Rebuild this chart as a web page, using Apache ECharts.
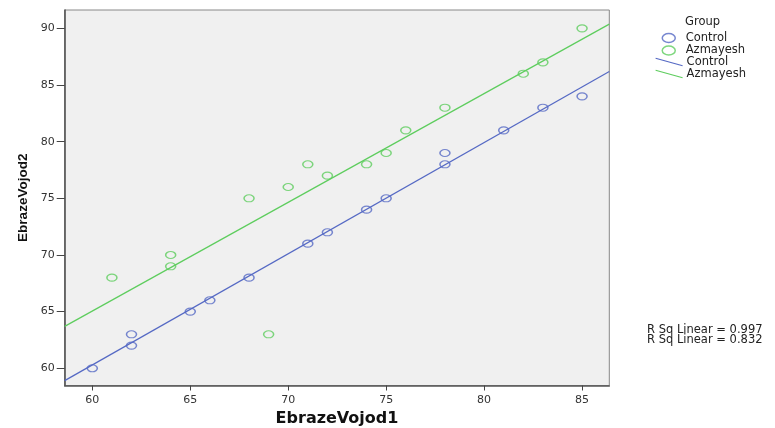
<!DOCTYPE html>
<html><head><meta charset="utf-8">
<script src="https://cdn.jsdelivr.net/npm/echarts@6/dist/echarts.min.js"></script>
<style>html,body{margin:0;padding:0;background:#fff}#c{width:775px;height:428px}</style>
</head><body><div id="c"></div>
<script>
const controlX = [60, 62, 62, 65, 66, 68, 71, 72, 74, 75, 78, 78, 81, 83, 85];
const controlY = [60, 62, 63, 65, 66, 68, 71, 72, 74, 75, 78, 79, 81, 83, 84];
const azmayeshX = [61, 64, 64, 68, 69, 70, 71, 72, 74, 75, 76, 78, 82, 83, 85];
const azmayeshY = [68, 70, 69, 75, 63, 76, 78, 77, 78, 79, 81, 83, 86, 87, 90];
const xTicks = [60, 65, 70, 75, 80, 85];
const yTicks = [60, 65, 70, 75, 80, 85, 90];
const groupNames = ['Control', 'Azmayesh'];
const rSqLabels = ['R Sq Linear = 0.997', 'R Sq Linear = 0.832'];
const legendTitle = 'Group';
const xName = 'EbrazeVojod1';
const yName = 'EbrazeVojod2';

const X_MIN = 58.59, X_MAX = 86.39, Y_MIN = 58.48, Y_MAX = 91.62;
const BLUE = '#5569c4', GREEN = '#5ecd5e';
const COLORS = [BLUE, GREEN];

function fit(xs, ys) {
  const n = xs.length;
  const mx = xs.reduce((a, b) => a + b, 0) / n;
  const my = ys.reduce((a, b) => a + b, 0) / n;
  let sxy = 0, sxx = 0;
  for (let i = 0; i < n; i++) { sxy += (xs[i] - mx) * (ys[i] - my); sxx += (xs[i] - mx) ** 2; }
  const b = sxy / sxx, a = my - b * mx;
  return [[X_MIN, a + b * X_MIN], [X_MAX, a + b * X_MAX]];
}
const pts = (xs, ys) => xs.map((x, i) => [x, ys[i]]);

const wide = 'DejaVu Sans, Verdana, sans-serif';
const arial = 'Liberation Sans, Arial, sans-serif';
const chart = echarts.init(document.getElementById('c'));
const scatterStyle = c => ({ color: 'rgba(0,0,0,0)', borderColor: c, borderWidth: 1.3 });
const legText = { fontFamily: wide, fontSize: 11.5, color: '#222', lineHeight: 12 };
const circleLegend = (i, centerY) => ({
  data: [groupNames[i]], orient: 'vertical', left: 661.5, top: centerY - 6, padding: 0,
  itemWidth: 13, itemHeight: 9, icon: 'path://M0,4.5 A6.5,4.5 0 1,1 13,4.5 A6.5,4.5 0 1,1 0,4.5 Z',
  itemStyle: { color: 'rgba(0,0,0,0)', borderColor: COLORS[i], borderWidth: 1.5 },
  textStyle: Object.assign({ padding: [0, 0, 0, 5.5] }, legText)
});
const lineLegend = (i, centerY) => ({
  data: [groupNames[i] + ' fit'], orient: 'vertical', left: 655, top: centerY - 6, padding: 0,
  itemWidth: 27, itemHeight: 7.5, icon: 'path://M0,0 L27,7.5',
  itemStyle: { color: 'rgba(0,0,0,0)', borderColor: COLORS[i], borderWidth: 1.2 },
  formatter: n => n.replace(' fit', ''),
  textStyle: Object.assign({ padding: [0, 0, 0, -1] }, legText)
});

chart.setOption({
  animation: false,
  backgroundColor: '#fff',
  grid: { left: 64.7, top: 10, right: 165.7, bottom: 42.5, containLabel: false, outerBoundsMode: 'none',
    show: true, backgroundColor: '#f0f0f0', borderColor: '#888', borderWidth: 1 },
  xAxis: {
    type: 'value', min: X_MIN, max: X_MAX,
    name: xName, nameLocation: 'middle', nameGap: 25,
    nameTextStyle: { fontFamily: wide, fontWeight: 'bold', fontSize: 16, color: '#111' },
    axisLine: { show: true, lineStyle: { color: '#555', width: 1.6 } },
    axisTick: { show: true, length: 5, lineStyle: { color: '#444' }, customValues: xTicks },
    axisLabel: { fontFamily: wide, fontSize: 11, color: '#333', margin: 9, customValues: xTicks },
    splitLine: { show: false }
  },
  yAxis: {
    type: 'value', min: Y_MIN, max: Y_MAX,
    name: yName, nameLocation: 'middle', nameGap: 32, nameRotate: 90,
    nameTextStyle: { fontFamily: arial, fontWeight: 'bold', fontSize: 13.5, color: '#111' },
    axisLine: { show: true, lineStyle: { color: '#555', width: 1.6 } },
    axisTick: { show: true, length: 8, lineStyle: { color: '#444' }, customValues: yTicks },
    axisLabel: { fontFamily: wide, fontSize: 11, color: '#333', margin: 10, customValues: yTicks },
    splitLine: { show: false }
  },
  legend: [
    circleLegend(0, 38),
    circleLegend(1, 50.5),
    lineLegend(0, 62),
    lineLegend(1, 74)
  ],
  graphic: [
    { type: 'text', x: 685, y: 22.5, style: { text: legendTitle, fontFamily: wide, fontSize: 11.5, fill: '#222', verticalAlign: 'middle' } },
    { type: 'text', x: 647, y: 330.5, style: { text: rSqLabels[0], fontFamily: wide, fontSize: 11.5, fill: '#222', verticalAlign: 'middle' } },
    { type: 'text', x: 647, y: 340.5, style: { text: rSqLabels[1], fontFamily: wide, fontSize: 11.5, fill: '#222', verticalAlign: 'middle' } }
  ],
  series: [
    { name: groupNames[0] + ' fit', type: 'line', data: fit(controlX, controlY), showSymbol: false, color: BLUE, lineStyle: { width: 1.2, color: BLUE }, z: 2 },
    { name: groupNames[1] + ' fit', type: 'line', data: fit(azmayeshX, azmayeshY), showSymbol: false, color: GREEN, lineStyle: { width: 1.2, color: GREEN }, z: 2 },
    { name: groupNames[0], type: 'scatter', data: pts(controlX, controlY), symbol: 'circle', symbolSize: [10, 7], color: BLUE, itemStyle: scatterStyle(BLUE), z: 3 },
    { name: groupNames[1], type: 'scatter', data: pts(azmayeshX, azmayeshY), symbol: 'circle', symbolSize: [10, 7], color: GREEN, itemStyle: scatterStyle(GREEN), z: 3 }
  ]
});
</script></body></html>
